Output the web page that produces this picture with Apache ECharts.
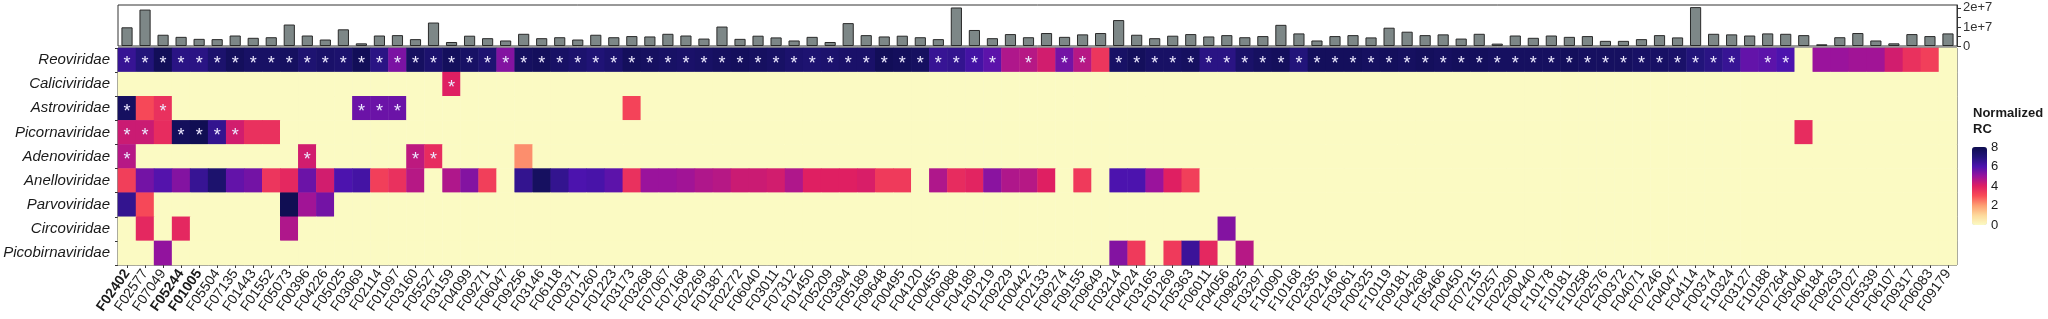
<!DOCTYPE html>
<html>
<head>
<meta charset="utf-8">
<script src="https://cdn.jsdelivr.net/npm/echarts@6/dist/echarts.min.js"></script>
<style>
html, body { margin: 0; padding: 0; background: #fff; }
#chart { width: 2048px; height: 319px; }
</style>
</head>
<body>
<div id="chart"></div>
<script>
var samples = ['F02402', 'F02577', 'F07049', 'F05244', 'F01005', 'F05504', 'F07135', 'F01443', 'F01552', 'F05073',
    'F00396', 'F04226', 'F05025', 'F03069', 'F02114', 'F01097', 'F03160', 'F05527', 'F03159', 'F04099',
    'F09271', 'F06047', 'F09256', 'F03146', 'F06118', 'F00371', 'F01260', 'F01223', 'F03173', 'F03268',
    'F07067', 'F07168', 'F02269', 'F01387', 'F02272', 'F06040', 'F03011', 'F07312', 'F01450', 'F05209',
    'F03394', 'F05189', 'F09648', 'F00495', 'F04120', 'F00455', 'F06088', 'F04189', 'F01219', 'F09229',
    'F00442', 'F02133', 'F09274', 'F09155', 'F09649', 'F03214', 'F04024', 'F03165', 'F01269', 'F05363',
    'F06011', 'F04056', 'F09825', 'F03297', 'F10090', 'F10168', 'F02335', 'F02146', 'F03061', 'F00325',
    'F10119', 'F09181', 'F04268', 'F05466', 'F00450', 'F07215', 'F10257', 'F02290', 'F00440', 'F10178',
    'F10181', 'F10258', 'F02576', 'F00372', 'F04071', 'F07246', 'F04047', 'F04114', 'F00374', 'F10324',
    'F03127', 'F10188', 'F07264', 'F05040', 'F06184', 'F09263', 'F07027', 'F05339', 'F06107', 'F09317',
    'F06083', 'F09179'];
var boldSamples = ['F02402', 'F05244', 'F01005'];
var families = ['Reoviridae', 'Caliciviridae', 'Astroviridae', 'Picornaviridae', 'Adenoviridae',
    'Anelloviridae', 'Parvoviridae', 'Circoviridae', 'Picobirnaviridae'];

// total reads per sample, millions
var totalReads = [9.8, 19.1, 5.9, 4.8, 3.75, 3.6, 5.5, 4.3, 4.6, 11.25,
    5.5, 3.4, 8.75, 1.4, 5.5, 5.7, 3.6, 12.3, 2.1, 5.4,
    4.1, 2.9, 6.4, 4.1, 4.6, 3.4, 5.9, 4.6, 5.2, 5.0,
    6.4, 5.5, 3.9, 10.2, 3.75, 5.4, 4.5, 2.9, 4.8, 2.1,
    12.0, 5.7, 5.0, 5.4, 4.6, 3.6, 20.2, 8.4, 4.1, 6.25,
    4.6, 6.8, 4.8, 6.1, 6.8, 13.6, 5.9, 4.1, 5.4, 6.25,
    5.0, 5.7, 4.6, 5.2, 11.1, 6.6, 2.9, 5.2, 5.7, 4.5,
    9.6, 7.5, 5.7, 6.1, 3.9, 6.4, 1.25, 5.5, 4.3, 5.5,
    4.8, 5.2, 2.7, 2.7, 3.6, 5.7, 4.5, 20.4, 6.4, 6.1,
    5.5, 6.6, 6.4, 5.7, 0.9, 4.6, 6.8, 2.9, 1.4, 6.25,
    5.2, 6.6];

// normalized RC, one value per sample
var reoviridae = [6.5, 7.0, 7.8, 6.8, 6.8, 7.3, 7.7, 7.5,
    7.5, 7.6, 7.2, 7.4, 7.3, 7.8, 6.8, 5.4, 7.6, 7.3, 7.7, 7.5, 7.2, 5.3,
    7.6, 7.7, 7.5, 7.3, 7.1, 7.3, 7.7, 7.6, 7.5, 7.4, 7.5, 7.6, 7.7, 7.6,
    7.5, 7.3, 7.2, 7.3, 7.4, 7.4, 7.8, 7.7, 7.6, 6.5, 6.6, 6.2, 5.8,
    4.7, 4.6, 4.2, 5.5, 4.6, 3.5,
    7.5, 7.7, 7.5, 7.5, 7.6, 6.8, 6.8, 7.4,
    7.6, 7.7, 7.0, 7.7, 7.7, 7.7, 7.6, 7.7, 7.6, 7.7, 7.6, 7.7, 7.7, 7.6,
    7.6, 7.6, 7.6, 7.7, 7.6, 7.6, 7.6, 7.5, 7.5, 7.4, 7.0, 6.8, 6.5, 5.7,
    5.8, 6.0, 0, 5.0, 5.0, 4.9, 4.9, 4.2, 3.6, 3.3, 0];
var reoviridaeStar = [1, 1, 1, 1, 1, 1, 1, 1,
    1, 1, 1, 1, 1, 1, 1, 1, 1, 1, 1, 1, 1, 1,
    1, 1, 1, 1, 1, 1, 1, 1, 1, 1, 1, 1, 1, 1,
    1, 1, 1, 1, 1, 1, 1, 1, 1, 1, 1, 1, 1,
    0, 1, 0, 1, 1, 0,
    1, 1, 1, 1, 1, 1, 1, 1,
    1, 1, 1, 1, 1, 1, 1, 1, 1, 1, 1, 1, 1, 1,
    1, 1, 1, 1, 1, 1, 1, 1, 1, 1, 1, 1, 1, 0,
    1, 1, 0, 0, 0, 0, 0, 0, 0, 0, 0];
var anelloviridae = [3.3, 5.5, 5.9, 5.3, 6.5, 7.3, 5.7, 5.5,
    3.5, 3.8, 5.6, 4.2, 6.0, 6.2, 3.3, 3.6, 4.6, 0, 4.7, 5.3, 3.3, 0,
    6.6, 7.6, 6.6, 6.0, 6.1, 5.8, 3.6, 5.0, 5.0, 4.9, 4.7, 4.6, 4.3, 4.3,
    4.2, 4.7, 4.0, 4.0, 4.0, 4.1, 3.4, 3.4, 0, 4.7, 3.7, 3.9, 5.2,
    4.7, 4.6, 4.0, 0, 3.4, 0, 6.0, 6.0, 5.0, 4.0, 3.3,
    0, 0, 0, 0, 0, 0, 0, 0, 0, 0, 0, 0, 0, 0, 0, 0, 0, 0, 0, 0, 0,
    0, 0, 0, 0, 0, 0, 0, 0, 0, 0, 0, 0, 0, 0, 0, 0, 0, 0, 0, 0, 0];

// sparse families: [sample, normalized RC, significant]
var caliciviridae = [['F03159', 4.0, 1]];
var astroviridae = [['F02402', 7.6, 1], ['F02577', 3.1, 0], ['F07049', 3.6, 1], ['F03069', 5.6, 1],
    ['F02114', 5.6, 1], ['F01097', 5.6, 1], ['F03173', 3.2, 0]];
var picornaviridae = [['F02402', 4.3, 1], ['F02577', 4.3, 1], ['F07049', 3.7, 0], ['F05244', 7.7, 1],
    ['F01005', 7.9, 1], ['F05504', 6.6, 1], ['F07135', 4.2, 1], ['F01443', 3.6, 0], ['F01552', 3.6, 0],
    ['F05040', 3.7, 0]];
var adenoviridae = [['F02402', 4.6, 1], ['F00396', 4.2, 1], ['F03160', 4.5, 1], ['F05527', 3.7, 1],
    ['F09256', 2.2, 0]];
var parvoviridae = [['F02402', 6.6, 0], ['F02577', 3.1, 0], ['F05073', 7.9, 0], ['F00396', 4.9, 0],
    ['F04226', 5.5, 0]];
var circoviridae = [['F02577', 3.8, 0], ['F05244', 3.8, 0], ['F05073', 4.7, 0], ['F04056', 5.3, 0]];
var picobirnaviridae = [['F07049', 5.1, 0], ['F03214', 5.3, 0], ['F04024', 3.4, 0], ['F01269', 3.4, 0],
    ['F05363', 6.4, 0], ['F06011', 3.8, 0], ['F09825', 4.6, 0]];

var legendTicks = [0, 2, 4, 6, 8];
var rcColors = ['#FBFAC3', '#FDD99B', '#FD9F72', '#F94C57', '#DF1F62', '#9A139C', '#4C13AE', '#22147A', '#0E0D4F'];

function buildHeatData() {
    var data = [];
    var grid = [];
    var stars = [];
    for (var r = 0; r < families.length; r++) {
        grid.push([]);
        stars.push([]);
        for (var c = 0; c < samples.length; c++) {
            grid[r].push(0);
            stars[r].push(0);
        }
    }
    for (var c = 0; c < samples.length; c++) {
        grid[0][c] = reoviridae[c];
        stars[0][c] = reoviridaeStar[c];
        grid[5][c] = anelloviridae[c];
    }
    var sparse = [[1, caliciviridae], [2, astroviridae], [3, picornaviridae], [4, adenoviridae],
        [6, parvoviridae], [7, circoviridae], [8, picobirnaviridae]];
    sparse.forEach(function (s) {
        s[1].forEach(function (e) {
            var c = samples.indexOf(e[0]);
            grid[s[0]][c] = e[1];
            stars[s[0]][c] = e[2];
        });
    });
    for (var r = 0; r < families.length; r++) {
        for (var c = 0; c < samples.length; c++) {
            var item = {value: [c, r, grid[r][c]]};
            if (stars[r][c]) {
                item.label = {show: true};
            }
            data.push(item);
        }
    }
    return data;
}

var font = 'Liberation Sans, Arial, sans-serif';
var chart = echarts.init(document.getElementById('chart'));
var option = {
    animation: false,
    title: {
        text: 'Normalized\nRC',
        left: 1973,
        top: 105,
        padding: 0,
        textStyle: {fontFamily: font, fontSize: 13, fontWeight: 'bold', color: '#1a1a1a', lineHeight: 16}
    },
    grid: [
        {left: 118, top: 5, width: 1839, height: 41, show: true, borderColor: '#333', borderWidth: 1},
        {left: 118, top: 48, width: 1839, height: 217, show: true, borderColor: '#222', borderWidth: 1},
        {left: 1972, top: 147, width: 15, height: 78}
    ],
    xAxis: [
        {
            type: 'category', gridIndex: 0, data: samples,
            axisLine: {show: false}, axisTick: {show: false}, axisLabel: {show: false}
        },
        {
            type: 'category', gridIndex: 1, data: samples,
            axisLine: {show: false},
            axisTick: {show: true, length: 3, alignWithLabel: true, lineStyle: {color: '#333'}},
            axisLabel: {
                interval: 0, rotate: 55, margin: 6, fontFamily: font, fontSize: 14, color: '#1a1a1a',
                formatter: function (v) {
                    return boldSamples.indexOf(v) >= 0 ? '{b|' + v + '}' : v;
                },
                rich: {b: {fontWeight: 'bold', fontFamily: font, fontSize: 14, color: '#1a1a1a'}}
            }
        },
        {type: 'value', gridIndex: 2, show: false, min: 0, max: 1}
    ],
    yAxis: [
        {
            type: 'value', gridIndex: 0, position: 'right', min: 0, max: 2.15e7, interval: 5e6,
            axisLine: {show: true, lineStyle: {color: '#333'}},
            axisTick: {show: true, length: 4, lineStyle: {color: '#333'}},
            splitLine: {show: false},
            axisLabel: {
                margin: 6, fontFamily: font, fontSize: 13, color: '#333',
                showMaxLabel: false,
                formatter: function (v) {
                    if (v === 0) return '0';
                    if (v === 1e7) return '1e+7';
                    if (v === 2e7) return '2e+7';
                    return '';
                }
            }
        },
        {
            type: 'category', gridIndex: 1, data: families, inverse: true,
            axisLine: {show: false},
            axisTick: {show: true, length: 3, lineStyle: {color: '#333'}},
            axisLabel: {margin: 8, fontFamily: font, fontSize: 15, fontStyle: 'italic', color: '#1a1a1a'}
        },
        {
            type: 'value', gridIndex: 2, position: 'right', min: 0, max: 8, interval: 2,
            axisLine: {show: false}, splitLine: {show: false},
            axisTick: {show: true, inside: true, length: 3, lineStyle: {color: '#fff'}},
            axisLabel: {margin: 4, fontFamily: font, fontSize: 13, color: '#1a1a1a',
                formatter: function (v) { return legendTicks.indexOf(v) >= 0 ? String(v) : ''; }}
        },
        {
            type: 'value', gridIndex: 2, position: 'left', min: 0, max: 8, interval: 2,
            axisLine: {show: false}, splitLine: {show: false}, axisLabel: {show: false},
            axisTick: {show: true, inside: true, length: 3, lineStyle: {color: '#fff'}}
        }
    ],
    visualMap: {
        type: 'continuous', seriesIndex: 1, dimension: 2, min: 0, max: 8,
        left: 1972, top: 147, itemWidth: 15, itemHeight: 78, padding: 0,
        calculable: false, hoverLink: false, text: null,
        inRange: {color: rcColors}
    },
    series: [
        {
            type: 'bar', xAxisIndex: 0, yAxisIndex: 0, barWidth: '62%',
            data: totalReads.map(function (v) { return v * 1e6; }),
            itemStyle: {color: '#7d8787', borderColor: '#2a2a2a', borderWidth: 1}
        },
        {
            type: 'heatmap', xAxisIndex: 1, yAxisIndex: 1,
            data: buildHeatData(),
            label: {
                show: false, formatter: '*', color: '#ece8ff', fontFamily: font, fontSize: 18,
                offset: [0, 4]
            },
            emphasis: {disabled: true}
        }
    ]
};
chart.setOption(option);
</script>
</body>
</html>
